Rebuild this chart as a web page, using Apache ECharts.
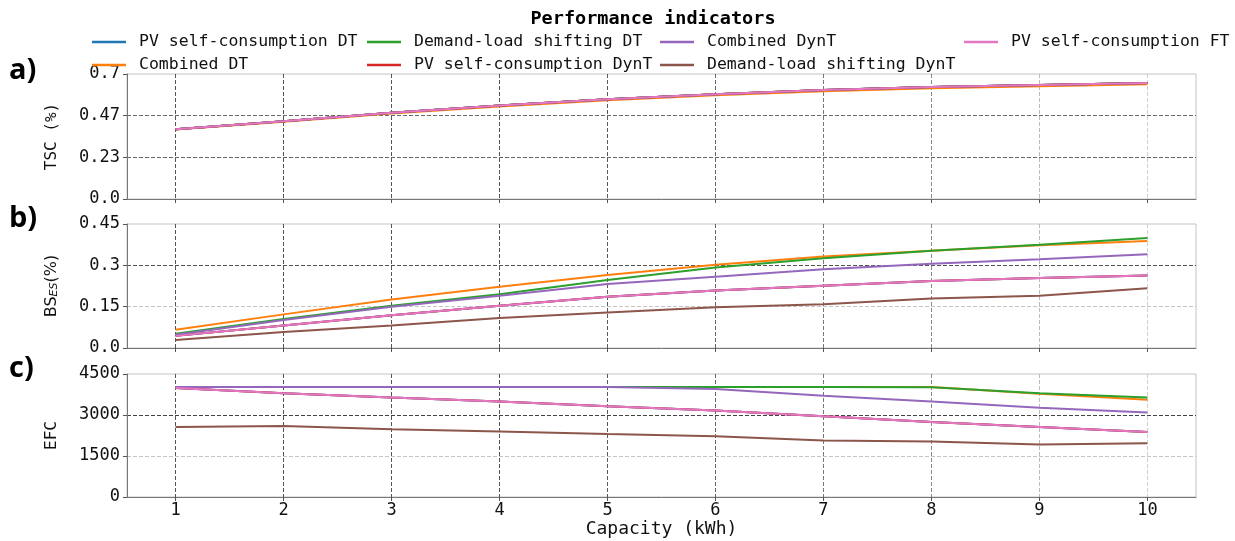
<!DOCTYPE html>
<html><head><meta charset="utf-8">
<script src="https://cdn.jsdelivr.net/npm/echarts@6/dist/echarts.min.js"></script>
<style>html,body{margin:0;padding:0;background:#fff}#c{width:1235px;height:541px}</style>
</head><body><div id="c"></div>
<script>
// ---------- DATA ----------
const capacity = [1, 2, 3, 4, 5, 6, 7, 8, 9, 10];
const seriesNames = ['PV self-consumption DT', 'Combined DT', 'Demand-load shifting DT',
  'PV self-consumption DynT', 'Combined DynT', 'Demand-load shifting DynT', 'PV self-consumption FT'];

// a) TSC (%)
const tscPvDT    = [0.391, 0.436, 0.483, 0.523, 0.559, 0.587, 0.610, 0.627, 0.638, 0.649];
const tscCombDT  = [0.389, 0.433, 0.479, 0.518, 0.553, 0.581, 0.604, 0.620, 0.632, 0.643];
const tscDlsDT   = [0.391, 0.436, 0.483, 0.523, 0.559, 0.587, 0.610, 0.627, 0.638, 0.649];
const tscPvDynT  = [0.391, 0.436, 0.483, 0.523, 0.559, 0.587, 0.610, 0.627, 0.638, 0.649];
const tscCombDynT= [0.391, 0.436, 0.483, 0.523, 0.559, 0.587, 0.610, 0.627, 0.638, 0.649];
const tscDlsDynT = [0.391, 0.436, 0.483, 0.523, 0.559, 0.587, 0.610, 0.627, 0.638, 0.649];
const tscPvFT    = [0.391, 0.436, 0.483, 0.523, 0.559, 0.587, 0.610, 0.627, 0.638, 0.649];

// b) BS_ES (%)
const bsPvDT     = [0.044, 0.082, 0.119, 0.153, 0.186, 0.209, 0.226, 0.243, 0.254, 0.263];
const bsCombDT   = [0.066, 0.122, 0.176, 0.222, 0.265, 0.302, 0.332, 0.353, 0.373, 0.388];
const bsDlsDT    = [0.052, 0.105, 0.153, 0.195, 0.247, 0.292, 0.326, 0.353, 0.375, 0.399];
const bsPvDynT   = [0.044, 0.082, 0.119, 0.153, 0.186, 0.209, 0.226, 0.243, 0.254, 0.263];
const bsCombDynT = [0.048, 0.102, 0.150, 0.190, 0.232, 0.259, 0.286, 0.306, 0.322, 0.340];
const bsDlsDynT  = [0.029, 0.058, 0.082, 0.109, 0.129, 0.148, 0.159, 0.180, 0.190, 0.217];
const bsPvFT     = [0.044, 0.082, 0.119, 0.153, 0.186, 0.209, 0.226, 0.243, 0.254, 0.263];

// c) EFC
const efcPvDT     = [3992, 3796, 3640, 3495, 3324, 3168, 2950, 2744, 2562, 2381];
const efcCombDT   = [4020, 4020, 4020, 4020, 4020, 4020, 4020, 4025, 3775, 3560];
const efcDlsDT    = [4020, 4020, 4020, 4020, 4020, 4020, 4020, 4015, 3800, 3640];
const efcPvDynT   = [3992, 3796, 3640, 3495, 3324, 3168, 2950, 2744, 2562, 2381];
const efcCombDynT = [4020, 4020, 4020, 4020, 4020, 3955, 3701, 3495, 3266, 3096];
const efcDlsDynT  = [2562, 2598, 2478, 2395, 2308, 2225, 2068, 2032, 1923, 1971];
const efcPvFT     = [3992, 3796, 3640, 3495, 3324, 3168, 2950, 2744, 2562, 2381];

// tick values / labels
const tscTicks = [0, 0.2333, 0.4667, 0.7];
const tscTickLabels = ['0.0', '0.23', '0.47', '0.7'];
const bsTicks = [0, 0.15, 0.3, 0.45];
const bsTickLabels = ['0.0', '0.15', '0.3', '0.45'];
const efcTicks = [0, 1500, 3000, 4500];
const efcTickLabels = ['0', '1500', '3000', '4500'];

// ---------- STYLE ----------
const colors = ['#1f77b4', '#ff7f0e', '#2ca02c', '#d62728', '#9467bd', '#8c564b', '#e377c2'];
const mono = 'DejaVu Sans Mono';
const panels = [
  { vals: [tscPvDT, tscCombDT, tscDlsDT, tscPvDynT, tscCombDynT, tscDlsDynT, tscPvFT],
    ticks: tscTicks, labels: tscTickLabels, max: 0.7, name: 'TSC (%)',
    hcol: ['#666', '#6a6a6a'] },
  { vals: [bsPvDT, bsCombDT, bsDlsDT, bsPvDynT, bsCombDynT, bsDlsDynT, bsPvFT],
    ticks: bsTicks, labels: bsTickLabels, max: 0.45, name: 'BS{s|ES}(%)',
    hcol: ['#c4c4c4', '#555'] },
  { vals: [efcPvDT, efcCombDT, efcDlsDT, efcPvDynT, efcCombDynT, efcDlsDynT, efcPvFT],
    ticks: efcTicks, labels: efcTickLabels, max: 4500, name: 'EFC',
    hcol: ['#c4c4c4', '#444'] }
];
const gridTops = [74, 224, 374];
const gridHeights = [125, 124, 123];
const xGridColors = ['#555', '#555', '#555', '#555', '#5a5a5a', '#666', '#777', '#888', '#bbb', '#d0d0d0'];

const grid = [], xAxis = [], yAxis = [], series = [];
panels.forEach((p, i) => {
  grid.push({ left: 127, right: 39, top: gridTops[i], height: gridHeights[i], show: true,
    borderColor: '#c4c4c4', borderWidth: 1, backgroundColor: 'rgba(0,0,0,0)' });
  xAxis.push({
    type: 'value', gridIndex: i, min: 0.55, max: 10.45,
    axisLine: { show: true, onZero: false, lineStyle: { color: '#777', width: 1 } },
    axisTick: { show: true, length: 4, customValues: capacity, lineStyle: { color: '#555' } },
    axisLabel: { show: i === 2, customValues: capacity, fontFamily: mono, fontSize: 17, color: '#111', margin: 5 },
    splitLine: { show: true, lineStyle: { type: [4, 2], color: xGridColors, width: 1 } },
    name: i === 2 ? 'Capacity (kWh)' : '', nameLocation: 'middle', nameGap: 17,
    nameTextStyle: { fontFamily: mono, fontSize: 18, color: '#111', verticalAlign: 'top' }
  });
  yAxis.push({
    type: 'value', gridIndex: i, min: 0, max: p.max,
    axisLine: { show: true, lineStyle: { color: '#777', width: 1 } },
    axisTick: { show: true, length: 4, customValues: p.ticks, lineStyle: { color: '#555' } },
    axisLabel: { customValues: p.ticks, fontFamily: mono, fontSize: 17, color: '#111', margin: 7,
      formatter: (v) => {
        let best = 0;
        p.ticks.forEach((t, k) => { if (Math.abs(t - v) < Math.abs(p.ticks[best] - v)) best = k; });
        return p.labels[best];
      } },
    splitLine: { show: true, showMinLine: false, showMaxLine: false,
      lineStyle: { type: [4, 2], color: p.hcol, width: 1 } },
    name: p.name, nameLocation: 'middle', nameRotate: 90, nameGap: 67,
    nameTextStyle: { fontFamily: i === 1 ? 'DejaVu Sans' : mono, fontSize: 16, color: '#111',
      rich: { s: { fontFamily: 'DejaVu Sans', fontStyle: 'italic', fontSize: 11, color: '#111',
        verticalAlign: 'bottom', padding: [6, 0, 0, 0] } } }
  });
  p.vals.forEach((arr, s) => {
    series.push({
      type: 'line', name: seriesNames[s], xAxisIndex: i, yAxisIndex: i,
      data: capacity.map((x, k) => [x, arr[k]]),
      symbol: 'none', showSymbol: false,
      lineStyle: { width: 2, color: colors[s] }, itemStyle: { color: colors[s] }
    });
  });
});

const legendCommon = {
  orient: 'vertical', top: 27, itemGap: 3, itemWidth: 34, itemHeight: 2.5, icon: 'rect',
  textStyle: { fontFamily: mono, fontSize: 16.5, color: '#111', lineHeight: 20, padding: [0, 0, 0, 8] },
  selectedMode: false
};
const legend = [
  Object.assign({ left: 87, data: [seriesNames[0], seriesNames[1]] }, legendCommon),
  Object.assign({ left: 362, data: [seriesNames[2], seriesNames[3]] }, legendCommon),
  Object.assign({ left: 655, data: [seriesNames[4], seriesNames[5]] }, legendCommon),
  Object.assign({ left: 959, data: [seriesNames[6]] }, legendCommon)
];

const chart = echarts.init(document.getElementById('c'));
chart.setOption({
  animation: false,
  backgroundColor: '#fff',
  grid, xAxis, yAxis, series, legend,
  graphic: [
    { type: 'text', x: 653, y: 19, style: { text: 'Performance indicators', align: 'center', verticalAlign: 'middle',
      font: 'bold 18.5px "DejaVu Sans Mono"', fill: '#000' } },
    { type: 'text', x: 9, y: 71, style: { text: 'a)', verticalAlign: 'middle', font: 'bold 29px "Open Sans"', fill: '#000' } },
    { type: 'text', x: 9, y: 219, style: { text: 'b)', verticalAlign: 'middle', font: 'bold 29px "Open Sans"', fill: '#000' } },
    { type: 'text', x: 9, y: 369, style: { text: 'c)', verticalAlign: 'middle', font: 'bold 29px "Open Sans"', fill: '#000' } }
  ]
});
</script></body></html>
